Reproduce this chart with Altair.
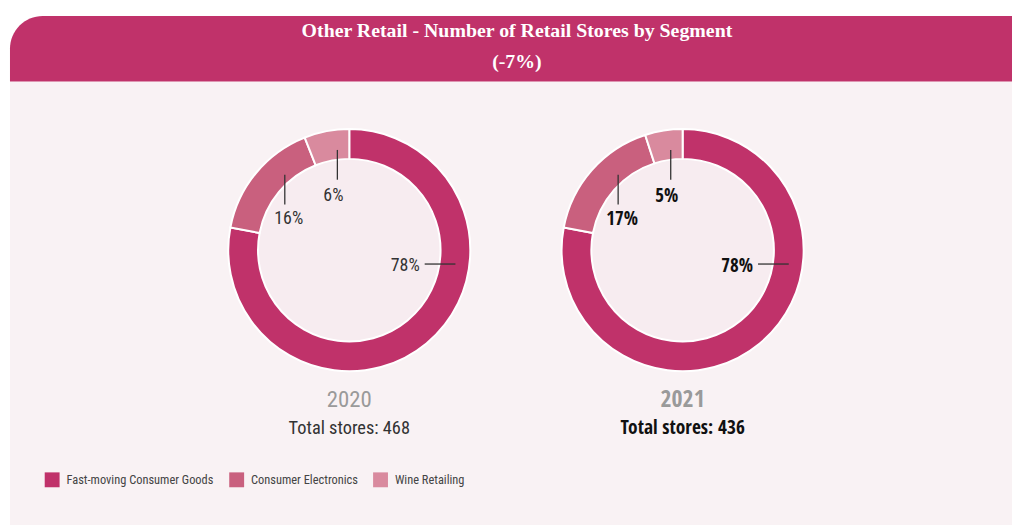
import altair as alt
import pandas as pd

# ---- data ----
years = ["2020", "2021"]
segments = ["Fast-moving Consumer Goods", "Consumer Electronics", "Wine Retailing"]
shares_2020 = [78, 16, 6]
shares_2021 = [78, 17, 5]
total_stores = [468, 436]
title_line1 = "Other Retail - Number of Retail Stores by Segment"
title_line2 = "(-7%)"

# ---- style ----
seg_colors = ["#C0326A", "#C9607E", "#D98A9E"]
SANS = "Roboto Condensed, DejaVu Sans Condensed, sans-serif"
SANS_B = "Open Sans Condensed, Roboto Condensed, sans-serif"
SERIF = "Liberation Serif"
CY = 242

rows = []
for yr, shares in zip(years, [shares_2020, shares_2021]):
    for i, (s, v) in enumerate(zip(segments, shares)):
        rows.append(dict(year=yr, segment=s, share=v, order=i, label=f"{v}%"))
df = pd.DataFrame(rows)
tot = pd.DataFrame({"year": years, "total": total_stores})
tot["label"] = "Total stores: " + tot["total"].astype(str)
one = pd.DataFrame({"k": [0]})

X = alt.X("year:N", scale=alt.Scale(type="point", domain=years, range=[344, 680], padding=0), axis=None)

bg = alt.Chart(one).mark_rect(color="#F9F2F4").encode(
    x=alt.value(2), x2=alt.value(1012), y=alt.value(72), y2=alt.value(519))
header = alt.Chart(one).mark_rect(color="#C0326A", cornerRadiusTopLeft=54).encode(
    x=alt.value(2), x2=alt.value(1012), y=alt.value(6), y2=alt.value(72))
t1 = alt.Chart(one).mark_text(text=title_line1, font=SERIF, fontWeight="bold", fontSize=20,
                              color="white").encode(x=alt.value(513), y=alt.value(21))
t2 = alt.Chart(one).mark_text(text=title_line2, font=SERIF, fontWeight="bold", fontSize=20,
                              color="white").encode(x=alt.value(513), y=alt.value(52))

inner = alt.Chart(tot).mark_arc(outerRadius=92, innerRadius=0, theta=0, theta2=6.2832,
                                color="#F7ECF0").encode(x=X, y=alt.value(CY))

donut = alt.Chart(df).transform_stack(
    stack="share", groupby=["year"], as_=["s0", "s1"],
    sort=[alt.SortField("order", order="ascending")]
).mark_arc(innerRadius=92, outerRadius=122, stroke="white", strokeWidth=2).encode(
    x=X,
    y=alt.value(CY),
    theta=alt.Theta("s0:Q", scale=alt.Scale(domain=[0, 100]), stack=None),
    theta2=alt.Theta2("s1:Q"),
    color=alt.Color("segment:N", scale=alt.Scale(domain=segments, range=seg_colors),
                    legend=alt.Legend(orient="none", legendX=37, legendY=466, direction="horizontal",
                                      title=None, symbolType="square", symbolSize=225,
                                      symbolStrokeWidth=0, labelFont=SANS, labelFontSize=12.5,
                                      labelLimit=400, labelColor="#444444", labelOffset=7,
                                      columnPadding=15)),
)

# label layout per segment (offsets from donut centre)
layout = {
    segments[0]: dict(dx=71, dy=16, align="right", horiz=True, xo=76, x2o=107, y1=14, y2=14),
    segments[1]: dict(dx=-61, dy=-31, align="center", horiz=False, xo=-65, x2o=0, y1=-76, y2=-46),
    segments[2]: dict(dx=-16, dy=-55, align="center", horiz=False, xo=-12, x2o=0, y1=-101, y2=-71),
}

layers = [bg, header, t1, t2, inner, donut]
styles = [("normal", "#333333", SANS, 18), ("bold", "#111111", SANS_B, 19)]

for seg in segments:
    L = layout[seg]
    segdf = df[df.segment == seg]
    if L["horiz"]:
        r = alt.Chart(segdf).mark_rule(color="#333333", strokeWidth=1.3,
                                       xOffset=L["xo"], x2Offset=L["x2o"]).encode(
            x=X, x2=alt.X2("year:N"), y=alt.value(CY + L["y1"]))
    else:
        r = alt.Chart(segdf).mark_rule(color="#333333", strokeWidth=1.3,
                                       xOffset=L["xo"]).encode(
            x=X, y=alt.value(CY + L["y1"]), y2=alt.value(CY + L["y2"]))
    layers.append(r)
    for yr, (w, c, f, fs) in zip(years, styles):
        sub = df[(df.segment == seg) & (df.year == yr)]
        layers.append(alt.Chart(sub).mark_text(font=f, fontSize=fs, fontWeight=w, color=c,
                                               align=L["align"], baseline="middle",
                                               dx=L["dx"], dy=L["dy"]).encode(
            x=X, y=alt.value(CY), text="label:N"))

for yr, (w, c, f, fs) in zip(years, styles):
    sub = tot[tot.year == yr]
    layers.append(alt.Chart(sub).mark_text(font=f, fontSize=fs + 5, fontWeight=w, color="#9A9A9A",
                                           baseline="middle").encode(
        x=X, y=alt.value(393), text="year:N"))
    layers.append(alt.Chart(sub).mark_text(font=f, fontSize=fs + 0.5, fontWeight=w, color=c,
                                           baseline="middle").encode(
        x=X, y=alt.value(421), text="label:N"))

chart = alt.layer(*layers).properties(
    width=1012, height=522, padding=0, background="white",
    autosize=alt.AutoSizeParams(type="none")
).configure_view(strokeWidth=0)

chart.save("out.html", embed_options={"renderer": "svg", "actions": False})
